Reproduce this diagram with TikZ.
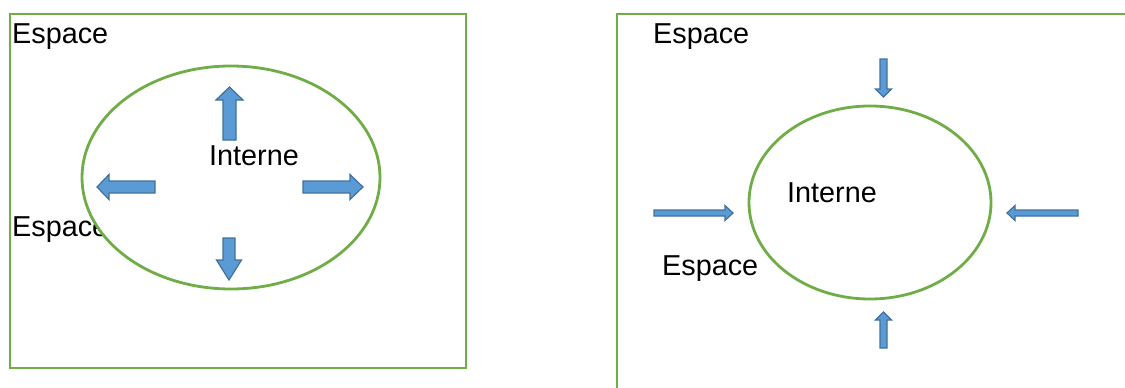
\documentclass[tikz,border=0pt]{standalone}
\usepackage{fontspec}
\setmainfont{Liberation Sans}
\definecolor{boxgreen}{HTML}{70AD47}
\definecolor{arrfill}{HTML}{5B9BD5}
\definecolor{arrline}{HTML}{41719C}
\newcommand{\blockarr}[7]{%
  \draw[arrowstyle, shift={(#1,#2)}, rotate=#3]
    (0,-#6) -- ({#4-#5},-#6) -- ({#4-#5},-#7) -- (#4,0) -- ({#4-#5},#7) -- ({#4-#5},#6) -- (0,#6) -- cycle;}
\begin{document}
\begin{tikzpicture}[x=1pt,y=-1pt,
  frame/.style={draw=boxgreen, line width=2.8pt},
  bubble/.style={draw=boxgreen, line width=2.8pt, fill=white},
  arrowstyle/.style={fill=arrfill, draw=arrline, line width=1.2pt, line join=miter},
  lbl/.style={inner sep=0pt, anchor=base west, font=\fontsize{28.8}{32}\selectfont}]
\useasboundingbox (0,0) rectangle (1125,388);
\clip (0,0) rectangle (1125,388);
% left panel
\draw[frame] (10,14) rectangle (466,368);
\node[lbl] (espA) at (12,43) {Espace};
\node[lbl] (espB) at (12,236) {Espace};
\draw[bubble] (231,177.5) ellipse [x radius=149, y radius=111.5];
\node[lbl] (intA) at (209,165) {Interne};
\blockarr{229.5}{140}{90}{53}{13}{6.5}{13.5}
\blockarr{155}{187}{180}{58}{12}{6}{12.5}
\blockarr{303}{187}{0}{60}{13}{6}{12.5}
\blockarr{229}{238}{-90}{42}{20}{6}{12.5}
% right panel
\draw[frame] (617,400) -- (617,14) -- (1135,14);
\node[lbl] (espC) at (653,43) {Espace};
\node[lbl] (espD) at (662,275) {Espace};
\draw[bubble] (870,202.5) ellipse [x radius=121, y radius=96.5];
\node[lbl] (intB) at (787,202) {Interne};
\blockarr{883.5}{59}{-90}{38}{8}{3.5}{8}
\blockarr{883.5}{348}{90}{36}{8}{3.5}{8}
\blockarr{654}{213}{0}{79}{8}{3}{7.5}
\blockarr{1078}{213}{180}{71}{8}{3}{7.5}
\end{tikzpicture}
\end{document}
